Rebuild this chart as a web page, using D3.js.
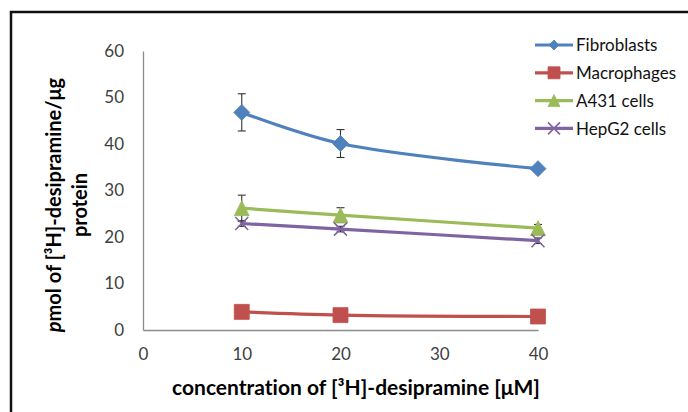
<!DOCTYPE html>
<html>
<head>
<meta charset="utf-8">
<script src="https://cdn.jsdelivr.net/npm/d3@7"></script>
<style>
  body { margin: 0; background: #fff; }
  svg { display: block; font-family: Lato, 'Open Sans', sans-serif; font-variant-ligatures: none; }
</style>
</head>
<body>
<div id="chart"></div>
<script>
// data
const concentrations = [10, 20, 40];
const seriesNames = [`Fibroblasts`, `Macrophages`, `A431 cells`, `HepG2 cells`];
const fibroblasts = [46.8, 40.1, 34.7];
const macrophages = [3.9, 3.2, 2.9];
const a431 = [26.2, 24.7, 21.9];
const hepg2 = [22.9, 21.7, 19.2];
const fibroblastsErr = [4.0, 3.0, 0.6];
const macrophagesErr = [0.3, 0.3, 0.3];
const a431Err = [2.8, 1.6, 0.8];
const hepg2Err = [0.6, 0.6, 0.6];
const xTicks = [0, 10, 20, 30, 40];
const yTicks = [0, 10, 20, 30, 40, 50, 60];

const colors = [`#4f81bd`, `#c0504d`, `#9bbb59`, `#8064a2`];
const shapes = [`diamond`, `square`, `triangle`, `cross`];
const values = [fibroblasts, macrophages, a431, hepg2];
const errors = [fibroblastsErr, macrophagesErr, a431Err, hepg2Err];

const series = seriesNames.map((name, i) => ({
  name,
  color: colors[i],
  shape: shapes[i],
  points: concentrations.map((c, j) => ({x: c, y: values[i][j], err: errors[i][j]})),
}));

const width = 688;
const height = 412;
const font = `Lato, 'Open Sans', sans-serif`;

const svg = d3.select(`#chart`).append(`svg`)
  .attr(`width`, width)
  .attr(`height`, height);

// outer frame (runs off the right and bottom of the picture)
svg.append(`rect`)
  .attr(`x`, 11)
  .attr(`y`, 12)
  .attr(`width`, width)
  .attr(`height`, height)
  .attr(`fill`, `none`)
  .attr(`stroke`, `#111`)
  .attr(`stroke-width`, 2.5);

const x = d3.scaleLinear().domain([0, 40]).range([143, 538]);
const y = d3.scaleLinear().domain([0, 60]).range([330, 51]);

const axisColor = `#8c8c8c`;
const labelColor = `#404040`;

const yAxis = svg.append(`g`)
  .attr(`transform`, `translate(${x(0)},0)`)
  .call(d3.axisLeft(y).tickValues(yTicks).tickSize(0).tickPadding(19));
const xAxis = svg.append(`g`)
  .attr(`transform`, `translate(0,${y(0)})`)
  .call(d3.axisBottom(x).tickValues(xTicks).tickSize(0).tickPadding(18));

[xAxis, yAxis].forEach(g => {
  g.select(`.domain`).attr(`stroke`, axisColor).attr(`stroke-width`, 1.3);
  g.selectAll(`text`)
    .attr(`fill`, labelColor)
    .style(`font-size`, `17px`)
    .style(`font-family`, font);
});

// axis titles
svg.append(`text`)
  .attr(`x`, 356)
  .attr(`y`, 395)
  .attr(`text-anchor`, `middle`)
  .style(`font-size`, `21px`)
  .style(`font-weight`, `bold`)
  .attr(`fill`, `#000`)
  .text(`concentration of [³H]-desipramine [μM]`);

const yTitle = svg.append(`text`)
  .attr(`transform`, `translate(61,205) rotate(-90)`)
  .attr(`text-anchor`, `middle`)
  .style(`font-size`, `20px`)
  .style(`font-weight`, `bold`)
  .attr(`fill`, `#000`);
yTitle.append(`tspan`)
  .attr(`x`, 0)
  .attr(`y`, 0)
  .style(`font-style`, `italic`)
  .text(`p`);
yTitle.append(`tspan`).text(`mol of [³H]-desipramine/μg`);
yTitle.append(`tspan`)
  .attr(`x`, 0)
  .attr(`y`, 26)
  .text(`protein`);

const symbolPath = (shape, size) => {
  if (shape === `diamond`) {
    return `M0,${-size / 2}L${size / 2},0L0,${size / 2}L${-size / 2},0Z`;
  }
  if (shape === `square`) {
    return `M${-size / 2},${-size / 2}h${size}v${size}h${-size}Z`;
  }
  if (shape === `triangle`) {
    return `M0,${-size / 2}L${size / 2},${size / 2}L${-size / 2},${size / 2}Z`;
  }
  const h = size / 2;
  return `M${-h},${-h}L${h},${h}M${h},${-h}L${-h},${h}`;
};

const drawMarker = (g, shape, color, size) => {
  const p = g.append(`path`).attr(`d`, symbolPath(shape, size));
  if (shape === `cross`) {
    p.attr(`fill`, `none`).attr(`stroke`, color).attr(`stroke-width`, 1.6);
  } else {
    p.attr(`fill`, color).attr(`stroke`, color).attr(`stroke-width`, 0.8);
  }
};

const markerSize = {diamond: 16, square: 15, triangle: 15, cross: 13};

const line = d3.line()
  .x(d => x(d.x))
  .y(d => y(d.y))
  .curve(d3.curveCatmullRom.alpha(0.5));

const plot = svg.append(`g`);

series.forEach(s => {
  const g = plot.append(`g`);

  g.append(`path`)
    .datum(s.points)
    .attr(`d`, line)
    .attr(`fill`, `none`)
    .attr(`stroke`, s.color)
    .attr(`stroke-width`, 3.2)
    .attr(`stroke-linecap`, `round`);

  // error bars
  const eb = g.selectAll(`.err`)
    .data(s.points)
    .enter().append(`g`)
    .attr(`stroke`, `#333`)
    .attr(`stroke-width`, 1.1);
  eb.append(`line`)
    .attr(`x1`, d => x(d.x)).attr(`x2`, d => x(d.x))
    .attr(`y1`, d => y(d.y + d.err)).attr(`y2`, d => y(d.y - d.err));
  eb.append(`line`)
    .attr(`x1`, d => x(d.x) - 4).attr(`x2`, d => x(d.x) + 4)
    .attr(`y1`, d => y(d.y + d.err)).attr(`y2`, d => y(d.y + d.err));
  eb.append(`line`)
    .attr(`x1`, d => x(d.x) - 4).attr(`x2`, d => x(d.x) + 4)
    .attr(`y1`, d => y(d.y - d.err)).attr(`y2`, d => y(d.y - d.err));

  s.points.forEach(d => {
    const m = g.append(`g`).attr(`transform`, `translate(${x(d.x)},${y(d.y)})`);
    drawMarker(m, s.shape, s.color, markerSize[s.shape]);
  });
});

// legend
const legend = svg.append(`g`);
const legendSize = {diamond: 10, square: 12, triangle: 12, cross: 12};
series.forEach((s, i) => {
  const ly = 45 + i * 27.8;
  const item = legend.append(`g`).attr(`transform`, `translate(0,${ly})`);
  item.append(`line`)
    .attr(`x1`, 535).attr(`x2`, 573)
    .attr(`stroke`, s.color)
    .attr(`stroke-width`, 3.2);
  const m = item.append(`g`).attr(`transform`, `translate(554,0)`);
  drawMarker(m, s.shape, s.color, legendSize[s.shape]);
  item.append(`text`)
    .attr(`x`, 576)
    .attr(`y`, 0)
    .attr(`dy`, `0.36em`)
    .style(`font-size`, `17px`)
    .attr(`fill`, `#111`)
    .text(s.name);
});
</script>
</body>
</html>
